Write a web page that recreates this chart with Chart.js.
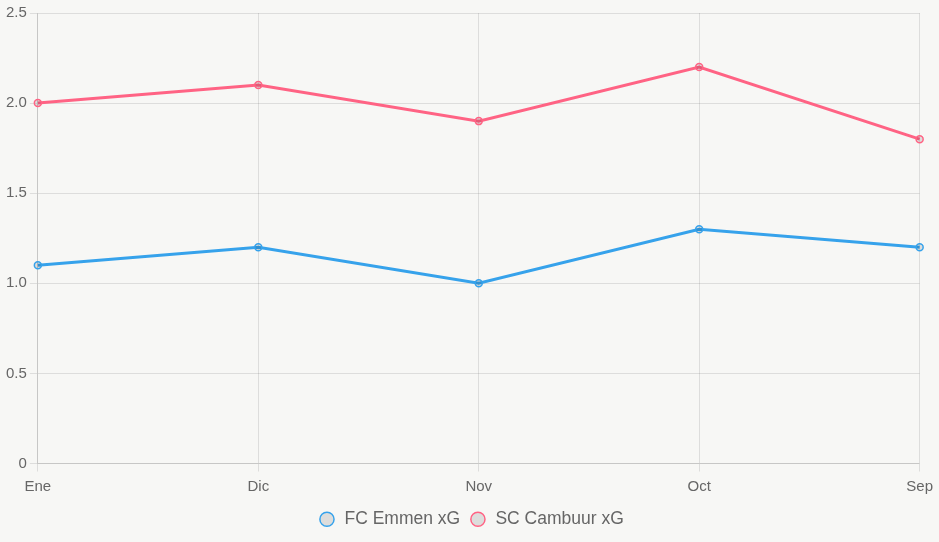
<!DOCTYPE html>
<html>
<head>
<meta charset="utf-8">
<script src="https://cdn.jsdelivr.net/npm/chart.js@4"></script>
<style>
  html, body { margin: 0; padding: 0; background: #f7f7f5; }
  #wrap { width: 939px; height: 542px; }
</style>
</head>
<body>
<div id="wrap"><canvas id="chart"></canvas></div>
<script>
const months = ['Ene', 'Dic', 'Nov', 'Oct', 'Sep'];
const emmenXg = [1.1, 1.2, 1.0, 1.3, 1.2];
const cambuurXg = [2.0, 2.1, 1.9, 2.2, 1.8];

Chart.defaults.font.family = 'Arial, "Liberation Sans", sans-serif';
Chart.defaults.color = '#666';

const ctx = document.getElementById('chart').getContext('2d');
new Chart(ctx, {
  type: 'line',
  data: {
    labels: months,
    datasets: [
      {
        label: 'FC Emmen xG',
        data: emmenXg,
        borderColor: '#36a2eb',
        backgroundColor: 'rgba(0,0,0,0.1)',
        borderWidth: 3,
        pointRadius: 3.5,
        pointBorderWidth: 1.5,
        tension: 0
      },
      {
        label: 'SC Cambuur xG',
        data: cambuurXg,
        borderColor: '#ff6384',
        backgroundColor: 'rgba(0,0,0,0.1)',
        borderWidth: 3,
        pointRadius: 3.5,
        pointBorderWidth: 1.5,
        tension: 0
      }
    ]
  },
  options: {
    responsive: true,
    maintainAspectRatio: false,
    animation: false,
    layout: { padding: { top: 13, left: 3, bottom: 4 } },
    plugins: {
      legend: {
        position: 'bottom',
        labels: {
          usePointStyle: true,
          font: { size: 17.5 },
          boxWidth: 17.5,
          boxHeight: 10,
          padding: 9,
          generateLabels: chart => Chart.defaults.plugins.legend.labels.generateLabels(chart)
            .map(l => Object.assign(l, { lineWidth: 1.5 }))
        }
      },
      tooltip: { enabled: false }
    },
    scales: {
      x: {
        ticks: { font: { size: 15 }, padding: 6 }
      },
      y: {
        min: 0,
        max: 2.5,
        ticks: {
          stepSize: 0.5,
          font: { size: 15 },
          callback: v => v === 0 ? '0' : v.toFixed(1)
        }
      }
    }
  }
});
</script>
</body>
</html>
